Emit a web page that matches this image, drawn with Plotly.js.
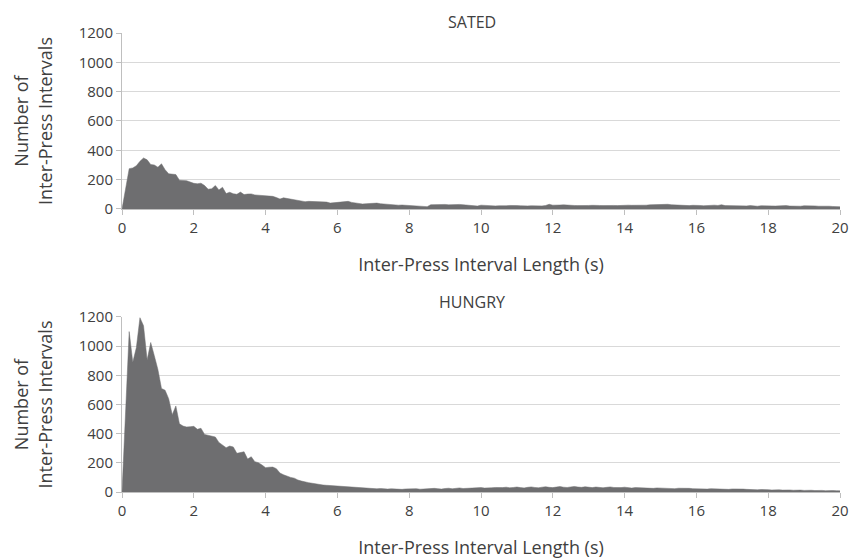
<!DOCTYPE html>
<html>
<head>
<meta charset="utf-8">
<script src="https://cdn.plot.ly/plotly-3.0.1.min.js"></script>
<style>html,body{margin:0;padding:0;background:#fff;}#chart{width:850px;height:559px;}</style>
</head>
<body>
<div id="chart"></div>
<script>
// Histogram bins: 0.0 s to 20.0 s, bin width 0.1 s
const binStart = 0;
const binWidth = 0.1;

const satedCounts = [
  0,150,275,280,295,325,348,335,303,300,
  285,308,268,240,238,235,196,195,193,184,
  175,172,176,160,135,138,160,130,148,105,
  114,104,100,115,98,102,103,96,94,91,
  88,84,86,78,68,76,72,63,60,57,
  53,50,52,51,48,46,45,47,40,42,
  46,50,53,52,45,40,38,34,36,39,
  38,40,36,33,30,29,28,26,27,25,
  24,23,24,22,20,16,29,30,27,29,
  31,28,30,27,31,29,26,28,25,20,
  26,24,23,22,21,22,20,22,24,21,
  23,22,24,21,22,20,22,21,24,32,
  26,24,27,28,25,22,24,23,25,26,
  24,25,27,24,23,25,22,24,23,25,
  24,26,25,24,26,27,26,28,29,31,
  33,35,32,29,27,24,22,24,23,25,
  27,24,22,25,28,26,24,29,23,22,
  24,20,23,22,21,23,20,19,22,20,
  18,21,20,22,19,23,20,18,21,19,
  22,20,18,21,19,20,18,19,17,16,
  15
];

const hungryCounts = [
  0,600,1100,890,990,1195,1140,905,1025,935,
  840,710,698,640,530,590,468,452,446,448,
  450,430,437,395,388,380,377,340,320,304,
  315,309,265,270,276,226,242,208,201,185,
  167,170,171,160,130,118,108,100,95,82,
  75,72,64,60,55,50,48,46,44,42,
  45,40,36,35,33,30,28,26,27,24,
  25,22,24,21,20,22,19,20,18,21,
  22,20,23,19,21,24,22,25,23,20,
  24,26,22,25,28,24,26,27,25,28,
  30,27,26,29,31,28,30,33,29,31,
  34,30,28,32,35,31,29,33,36,32,
  30,34,37,33,31,35,38,34,32,36,
  33,30,34,31,29,32,35,31,28,30,
  33,29,27,30,28,26,29,27,25,28,
  26,24,27,25,23,26,24,22,25,23,
  21,24,22,20,23,21,19,22,20,18,
  21,19,17,20,18,16,18,15,17,19,
  16,14,17,15,13,16,14,12,15,13,
  11,14,12,10,13,11,9,12,10,9,
  8
];

const panelTitles = ["SATED", "HUNGRY"];
const xTitle = "Inter-Press Interval Length (s)";
const yTitle = "Number of<br>Inter-Press Intervals";
const xTickVals = [0,2,4,6,8,10,12,14,16,18,20];
const yTickVals = [0,200,400,600,800,1000,1200];

const fillColor = "#6e6e70";
const textColor = "#404040";
const fontFamily = "'Open Sans', Lato, sans-serif";

const traces = [
  {x0: binStart, dx: binWidth, y: satedCounts, type: "scatter", mode: "lines",
   fill: "tozeroy", fillcolor: fillColor, line: {color: fillColor, width: 0.5},
   xaxis: "x", yaxis: "y", hoverinfo: "x+y", showlegend: false},
  {x0: binStart, dx: binWidth, y: hungryCounts, type: "scatter", mode: "lines",
   fill: "tozeroy", fillcolor: fillColor, line: {color: fillColor, width: 0.5},
   xaxis: "x2", yaxis: "y2", hoverinfo: "x+y", showlegend: false}
];

function xAxis(anchor) {
  return {
    anchor: anchor, domain: [0, 1], range: [0, 20],
    tickvals: xTickVals, ticks: "outside", ticklen: 5, tickcolor: "#bfbfbf",
    ticklabeloverflow: "allow",
    showline: true, linecolor: "#bfbfbf", linewidth: 1,
    showgrid: false, zeroline: false,
    tickfont: {family: fontFamily, size: 15, color: textColor},
    title: {text: xTitle, font: {family: fontFamily, size: 18, color: textColor}, standoff: 22}
  };
}
function yAxis(anchor, domain) {
  return {
    anchor: anchor, domain: domain, range: [0, 1200],
    tickvals: yTickVals, ticks: "outside", ticklen: 5, tickcolor: "#bfbfbf",
    showline: true, linecolor: "#bfbfbf", linewidth: 1,
    showgrid: true, gridcolor: "#d9d9d9", gridwidth: 1, zeroline: false,
    tickfont: {family: fontFamily, size: 15, color: textColor},
    title: {text: yTitle, font: {family: fontFamily, size: 18, color: textColor}, standoff: 21}
  };
}

const layout = {
  width: 850, height: 559,
  margin: {l: 122, r: 10, t: 33, b: 67},
  paper_bgcolor: "#ffffff", plot_bgcolor: "#ffffff",
  font: {family: fontFamily, color: textColor},
  xaxis: xAxis("y"),
  yaxis: yAxis("x", [0.6166, 1]),
  xaxis2: xAxis("y2"),
  yaxis2: yAxis("x2", [0, 0.3813]),
  annotations: [
    {text: panelTitles[0], xref: "paper", yref: "paper", x: 0.487, y: 1.025,
     xanchor: "center", yanchor: "middle", showarrow: false,
     font: {family: fontFamily, size: 16, color: textColor}},
    {text: panelTitles[1], xref: "paper", yref: "paper", x: 0.487, y: 0.414,
     xanchor: "center", yanchor: "middle", showarrow: false,
     font: {family: fontFamily, size: 16, color: textColor}}
  ]
};

Plotly.newPlot("chart", traces, layout, {displayModeBar: false, staticPlot: true});
</script>
</body>
</html>
